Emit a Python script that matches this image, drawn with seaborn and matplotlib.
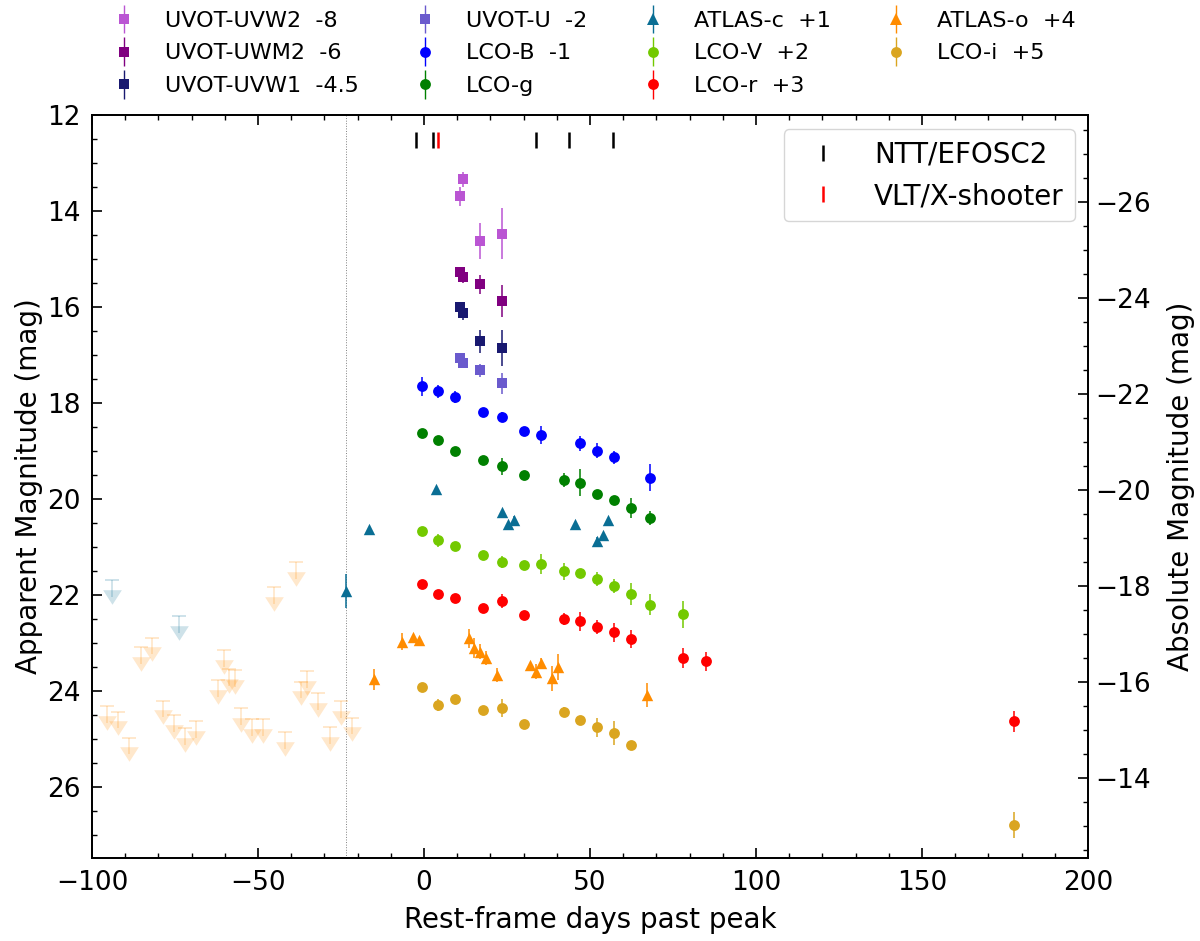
import numpy as np
import pandas as pd
import matplotlib
matplotlib.use("Agg")
import matplotlib.pyplot as plt
from matplotlib.legend_handler import HandlerErrorbar
from matplotlib.ticker import MultipleLocator
import seaborn as sns

sns.set_theme(style="ticks")
plt.rcParams["font.family"] = ["DejaVu Sans"]
plt.rcParams["text.color"] = "black"
plt.rcParams["axes.labelcolor"] = "black"

# UVOT
uvw2_t = [11.8, 10.9, 16.9, 23.6]
uvw2_m = [13.34, 13.69, 14.63, 14.47]
uvw2_e = [0.16, 0.20, 0.37, 0.53]
uwm2_t = [10.9, 11.8, 16.9, 23.6]
uwm2_m = [15.28, 15.37, 15.53, 15.87]
uwm2_e = [0.10, 0.12, 0.19, 0.33]
uvw1_t = [10.9, 11.8, 16.9, 23.6]
uvw1_m = [16.01, 16.13, 16.71, 16.85]
uvw1_e = [0.12, 0.15, 0.24, 0.38]
u_t = [10.9, 11.8, 16.9, 23.6]
u_m = [17.06, 17.17, 17.32, 17.59]
u_e = [0.08, 0.08, 0.14, 0.22]
# LCO
b_t = [-0.7, 4.3, 9.3, 17.7, 23.6, 30.2, 35.3, 47.1, 52.1, 57.1, 68.1]
b_m = [17.65, 17.76, 17.88, 18.18, 18.29, 18.58, 18.66, 18.84, 18.99, 19.13, 19.56]
b_e = [0.20, 0.13, 0.12, 0.06, 0.10, 0.08, 0.19, 0.15, 0.15, 0.14, 0.28]
g_t = [-0.7, 4.3, 9.3, 17.7, 23.6, 30.2, 42.1, 47.1, 52.1, 57.1, 62.2, 68.1]
g_m = [18.62, 18.78, 19.01, 19.19, 19.32, 19.49, 19.61, 19.66, 19.89, 20.03, 20.19, 20.40]
g_e = [0.05, 0.05, 0.05, 0.05, 0.17, 0.05, 0.15, 0.28, 0.06, 0.08, 0.21, 0.15]
v_t = [-0.7, 4.3, 9.3, 17.7, 23.6, 30.2, 35.3, 42.1, 47.1, 52.1, 57.1, 62.2, 68.1, 78.1]
v_m = [20.67, 20.86, 20.99, 21.16, 21.31, 21.37, 21.35, 21.51, 21.54, 21.67, 21.81, 21.98, 22.20, 22.40]
v_e = [0.05, 0.14, 0.05, 0.05, 0.12, 0.05, 0.21, 0.17, 0.05, 0.14, 0.14, 0.22, 0.22, 0.28]
r_t = [-0.7, 4.3, 9.3, 17.7, 23.6, 30.2, 42.1, 47.1, 52.1, 57.1, 62.2, 78.1, 84.8, 177.7]
r_m = [21.77, 21.99, 22.06, 22.28, 22.13, 22.41, 22.50, 22.55, 22.67, 22.78, 22.92, 23.31, 23.38, 24.63]
r_e = [0.05, 0.05, 0.05, 0.08, 0.15, 0.05, 0.13, 0.20, 0.15, 0.19, 0.18, 0.21, 0.20, 0.22]
i_t = [-0.7, 4.3, 9.3, 17.7, 23.6, 30.2, 42.1, 47.1, 52.1, 57.1, 62.2, 177.7]
i_m = [23.92, 24.29, 24.16, 24.40, 24.35, 24.68, 24.44, 24.61, 24.76, 24.87, 25.12, 26.79]
i_e = [0.05, 0.13, 0.05, 0.05, 0.19, 0.05, 0.10, 0.08, 0.20, 0.25, 0.08, 0.27]
# ATLAS
c_t = [-23.4, -16.6, 3.5, 23.6, 25.2, 27.0, 45.4, 52.1, 53.8, 55.5]
c_m = [21.92, 20.63, 19.80, 20.28, 20.52, 20.44, 20.53, 20.88, 20.76, 20.44]
c_e = [0.35, 0.05, 0.05, 0.05, 0.05, 0.08, 0.05, 0.08, 0.06, 0.05]
o_t = [-15.1, -6.6, -3.3, -1.6, 13.5, 15.2, 16.9, 18.6, 21.9, 31.9, 33.6, 35.3, 38.6, 40.4, 67.2]
o_m = [23.76, 22.97, 22.88, 22.94, 22.90, 23.11, 23.18, 23.31, 23.67, 23.46, 23.60, 23.42, 23.74, 23.50, 24.08]
o_e = [0.21, 0.17, 0.05, 0.05, 0.20, 0.21, 0.15, 0.14, 0.14, 0.05, 0.16, 0.10, 0.27, 0.28, 0.25]
# upper limits
oul_t = [-95.5, -92.1, -88.8, -85.3, -82.0, -78.7, -75.3, -72.0, -68.7, -62.0, -60.2, -58.6, -56.9,
         -55.2, -51.9, -48.6, -45.2, -41.9, -38.5, -36.9, -35.1, -31.8, -28.4, -25.1, -21.8]
oul_m = [24.66, 24.78, 25.32, 23.44, 23.24, 24.55, 24.85, 25.12, 24.98, 24.12, 23.50, 23.89, 23.91,
         24.71, 24.94, 24.93, 22.18, 25.20, 21.67, 24.15, 23.93, 24.39, 25.10, 24.56, 24.90]
cul_t = [-93.9, -73.7]
cul_m = [22.04, 22.79]
UL_BAR = 0.347
# spectra
ntt_t = [-2.4, 2.6, 33.6, 43.6, 57.0]
vlt_t = [4.3]
SPEC_Y = 12.52
PEAK_OFFSET_LINE = -23.4
DM = 39.81

series = [
    ("UVOT-UVW2  -8", uvw2_t, uvw2_m, uvw2_e, "s", "mediumorchid"),
    ("UVOT-UWM2  -6", uwm2_t, uwm2_m, uwm2_e, "s", "purple"),
    ("UVOT-UVW1  -4.5", uvw1_t, uvw1_m, uvw1_e, "s", "midnightblue"),
    ("UVOT-U  -2", u_t, u_m, u_e, "s", "slateblue"),
    ("LCO-B  -1", b_t, b_m, b_e, "o", "blue"),
    ("LCO-g", g_t, g_m, g_e, "o", "green"),
    ("ATLAS-c  +1", c_t, c_m, c_e, "^", "#0a6e94"),
    ("LCO-V  +2", v_t, v_m, v_e, "o", "#73c900"),
    ("LCO-r  +3", r_t, r_m, r_e, "o", "red"),
    ("ATLAS-o  +4", o_t, o_m, o_e, "^", "darkorange"),
    ("LCO-i  +5", i_t, i_m, i_e, "o", "goldenrod"),
]
sizes = {"s": 6.6, "o": 7.8, "^": 8.2}

fig, ax = plt.subplots(figsize=(12, 9.41), dpi=100)
fig.subplots_adjust(left=92/1200, right=1088/1200, top=1-115/941, bottom=1-858/941)

handles = []
for label, t, m, e, mk, col in series:
    ax.errorbar(t, m, yerr=e, fmt="none", ecolor=col, elinewidth=1.1, zorder=3)
    df = pd.DataFrame({"t": t, "m": m})
    sns.scatterplot(data=df, x="t", y="m", marker=mk, color=col, s=sizes[mk]**2,
                    linewidth=0, ax=ax, zorder=4, legend=False)
    handles.append(ax.errorbar([], [], yerr=[], fmt=mk, color=col, ms=sizes[mk],
                               mew=0, elinewidth=1.0, label=label))

# upper limits: bar and cap rise above the triangle (the y axis is inverted)
tri_down = [(-1, 0.78), (1, 0.78), (0, -0.78)]
for t, m, col in [(oul_t, oul_m, "darkorange"), (cul_t, cul_m, "#0a6e94")]:
    m = np.array(m)
    eb = ax.errorbar(t, m, yerr=[np.full_like(m, UL_BAR), np.zeros_like(m)], fmt="none",
                     ecolor=col, elinewidth=1.3, capsize=5, capthick=1.4, alpha=0.2, zorder=2)
    eb.lines[1][1].set_visible(False)
    df = pd.DataFrame({"t": t, "m": m})
    sns.scatterplot(data=df, x="t", y="m", marker=tri_down, color=col, s=181,
                    linewidth=0, alpha=0.2, ax=ax, zorder=2, legend=False)

ax.axvline(PEAK_OFFSET_LINE, color="gray", lw=0.7, ls=":", zorder=1)

# spectra
h_ntt, = ax.plot(ntt_t, [SPEC_Y]*len(ntt_t), ls="none", marker="|", ms=12, mew=1.8, color="black", label="NTT/EFOSC2")
h_vlt, = ax.plot(vlt_t, [SPEC_Y]*len(vlt_t), ls="none", marker="|", ms=12, mew=1.8, color="red", label="VLT/X-shooter")

ax.set_xlim(-100, 200)
ax.set_ylim(27.48, 12)
ax.set_xlabel("Rest-frame days past peak", fontsize=20, labelpad=7)
ax.set_ylabel("Apparent Magnitude (mag)", fontsize=20, labelpad=3)
ax.xaxis.set_major_locator(MultipleLocator(50))
ax.xaxis.set_minor_locator(MultipleLocator(10))
ax.yaxis.set_major_locator(MultipleLocator(2))
ax.yaxis.set_minor_locator(MultipleLocator(0.5))
ax.tick_params(which="major", direction="in", length=7, width=1.2, labelsize=19, top=True, pad=8.5)
ax.tick_params(which="minor", direction="in", length=3.6, width=1.0, top=True)

ax2 = ax.twinx()
ax2.set_ylim(27.48 - DM, 12 - DM)
ax2.set_ylabel("Absolute Magnitude (mag)", fontsize=20, labelpad=12)
ax2.yaxis.set_major_locator(MultipleLocator(2))
ax2.yaxis.set_minor_locator(MultipleLocator(0.5))
ax2.tick_params(which="major", direction="in", length=7, width=1.2, labelsize=19, pad=5)
ax2.tick_params(which="minor", direction="in", length=3.6, width=1.0)
ax2.grid(False)
for a in (ax, ax2):
    for s in a.spines.values():
        s.set_linewidth(1.3)
        s.set_color("black")
    a.tick_params(colors="black", which="both")

top_leg = fig.legend(handles=handles, ncol=4, loc="upper left", bbox_to_anchor=(93/1200, 0.998),
                     borderaxespad=0, frameon=False, fontsize=16, columnspacing=1.95, handletextpad=0.85,
                     labelspacing=0.57, handler_map={type(handles[0]): HandlerErrorbar(yerr_size=0.65, xerr_size=0)})
ax_leg = ax2.legend(handles=[h_ntt, h_vlt], loc="upper right", bbox_to_anchor=(0.987, 0.981), borderaxespad=0,
                    fontsize=20, frameon=True, fancybox=True, edgecolor="0.8", framealpha=0.8,
                    handletextpad=0.85)

fig.savefig("out.png", dpi=100)
